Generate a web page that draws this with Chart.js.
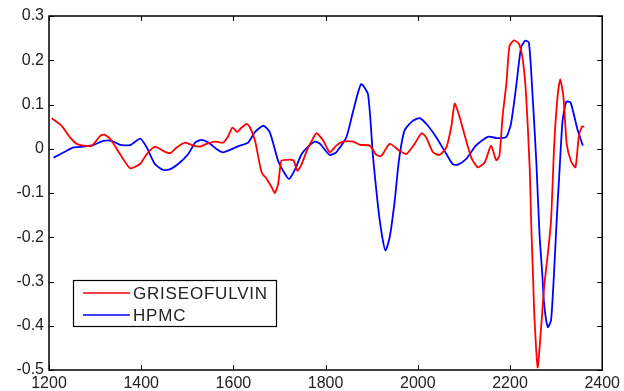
<!DOCTYPE html>
<html>
<head>
<meta charset="utf-8">
<script src="https://cdn.jsdelivr.net/npm/chart.js@4/dist/chart.umd.min.js"></script>
<style>
  html, body { margin: 0; padding: 0; background: #fff; }
  #chart { display: block; }
</style>
</head>
<body>
<canvas id="chart" width="624" height="391"></canvas>
<script>
// spectra
var seriesNames = ['GRISEOFULVIN', 'HPMC'];

var griseoX = [1206,1227,1246,1260,1275,1293,1311,1320,1333,1354,1376,1398,1412,1430,1448,1463,1477,1495,1513,1528,
  1542,1560,1578,1589,1598,1608,1618,1629,1636,1647,1661,1672,1683,1690,1697,1704,1715,1730,1739,1748,
  1759,1770,1780,1795,1809,1823,1838,1860,1874,1896,1910,1921,1939,1961,1975,1993,2008,2018,2033,2047,
  2062,2073,2080,2090,2101,2116,2130,2145,2159,2170,2177,2184,2192,2199,2209,2220,2228,2235,2243,2246,
  2250,2253,2260,2267,2274,2282,2289,2296,2303,2309,2316,2323,2332,2342,2349,2356,2361];
var griseoY = [0.069,0.052,0.025,0.011,0.007,0.007,0.029,0.032,0.022,-0.012,-0.044,-0.034,-0.012,0.005,-0.005,-0.010,0.003,0.014,0.007,0.005,
  0.011,0.016,0.014,0.029,0.048,0.038,0.048,0.056,0.048,0.018,-0.053,-0.068,-0.087,-0.100,-0.080,-0.027,-0.025,-0.026,-0.050,-0.035,
  -0.005,0.018,0.035,0.018,-0.008,0.007,0.016,0.016,0.009,0.007,-0.014,-0.016,0.011,-0.005,-0.012,0.011,0.035,0.026,-0.008,-0.014,
  0.003,0.052,0.102,0.074,0.033,-0.020,-0.042,-0.031,0.007,-0.026,-0.016,0.074,0.146,0.233,0.245,0.236,0.199,0.120,-0.050,-0.170,
  -0.290,-0.381,-0.494,-0.411,-0.313,-0.238,-0.163,0.011,0.116,0.157,0.116,0.011,-0.027,-0.042,0.026,0.050,0.050];

var hpmcX = [1210,1232,1253,1275,1297,1318,1336,1354,1376,1398,1412,1430,1448,1463,1484,1502,1517,1531,1546,1564,
  1578,1596,1614,1632,1647,1665,1679,1697,1712,1721,1734,1748,1762,1777,1788,1809,1823,1845,1860,1877,
  1892,1903,1914,1923,1930,1939,1950,1959,1971,1989,2004,2022,2040,2062,2076,2087,2105,2126,2152,2173,
  2192,2202,2213,2224,2233,2241,2248,2257,2264,2270,2274,2282,2289,2295,2302,2307,2314,2322,2331,2340,
  2347,2358];
var hpmcY = [-0.020,-0.008,0.003,0.005,0.009,0.018,0.018,0.009,0.008,0.023,0.003,-0.035,-0.048,-0.046,-0.031,-0.012,0.014,0.020,0.014,-0.001,
  -0.008,-0.001,0.007,0.014,0.038,0.052,0.037,-0.027,-0.057,-0.068,-0.046,-0.012,0.005,0.016,0.011,-0.014,-0.008,0.026,0.086,0.146,
  0.123,-0.020,-0.133,-0.200,-0.230,-0.200,-0.117,-0.027,0.041,0.063,0.069,0.052,0.026,-0.012,-0.035,-0.036,-0.023,0.007,0.027,0.024,
  0.027,0.056,0.138,0.229,0.244,0.240,0.138,-0.027,-0.193,-0.283,-0.351,-0.403,-0.388,-0.290,-0.147,-0.057,0.063,0.106,0.105,0.071,
  0.041,0.007];

var xTicks = [1200, 1400, 1600, 1800, 2000, 2200, 2400];
var yTicks = [0.3, 0.2, 0.1, 0, -0.1, -0.2, -0.3, -0.4, -0.5];
var yTickLabels = ['0.3', '0.2', '0.1', '0', '-0.1', '-0.2', '-0.3', '-0.4', '-0.5'];

function toPoints(xs, ys) {
  return xs.map(function(x, i) { return { x: x, y: ys[i] }; });
}

// matlab style box with inward ticks on all four sides
var boxTicks = {
  id: 'boxTicks',
  afterDatasetsDraw: function(chart) {
    var c = chart.ctx, a = chart.chartArea;
    var xs = chart.scales.x, ys = chart.scales.y;
    var len = 5;
    c.save();
    c.strokeStyle = '#000';
    c.lineWidth = 1;
    c.beginPath();
    xTicks.forEach(function(v) {
      var px = Math.round(xs.getPixelForValue(v)) + 0.5;
      c.moveTo(px, a.bottom); c.lineTo(px, a.bottom - len);
      c.moveTo(px, a.top); c.lineTo(px, a.top + len);
    });
    yTicks.forEach(function(v) {
      var py = Math.round(ys.getPixelForValue(v)) + 0.5;
      c.moveTo(a.left, py); c.lineTo(a.left + len, py);
      c.moveTo(a.right, py); c.lineTo(a.right - len, py);
    });
    c.stroke();
    c.lineWidth = 1.5;
    c.strokeRect(a.left, a.top, a.right - a.left, a.bottom - a.top);
    c.restore();
  }
};

// legend box sitting inside the plot, lower left
var insideLegend = {
  id: 'insideLegend',
  afterDraw: function(chart) {
    var c = chart.ctx;
    var bx = 73, by = 280, bw = 203, bh = 46;
    c.save();
    c.fillStyle = '#fff';
    c.fillRect(bx, by, bw, bh);
    c.strokeStyle = '#000';
    c.lineWidth = 1.2;
    c.strokeRect(bx + 0.5, by + 0.5, bw, bh);
    c.font = '17px "Liberation Sans", Arial, sans-serif';
    c.letterSpacing = '0.8px';
    c.textBaseline = 'middle';
    chart.data.datasets.forEach(function(ds, i) {
      var ly = by + 13 + i * 22;
      c.strokeStyle = ds.borderColor;
      c.lineWidth = 1.5;
      c.beginPath();
      c.moveTo(bx + 10, ly); c.lineTo(bx + 57, ly);
      c.stroke();
      c.fillStyle = '#222';
      c.fillText(ds.label, bx + 60, ly + 1);
    });
    c.restore();
  }
};

var ctx = document.getElementById('chart');

var myChart = new Chart(ctx, {
  type: 'line',
  data: {
    datasets: [
      {
        label: seriesNames[0],
        data: toPoints(griseoX, griseoY),
        borderColor: '#ff0000',
        borderWidth: 1.8,
        pointRadius: 0,
        tension: 0.2,
        fill: false
      },
      {
        label: seriesNames[1],
        data: toPoints(hpmcX, hpmcY),
        borderColor: '#0000ff',
        borderWidth: 1.8,
        pointRadius: 0,
        tension: 0.2,
        fill: false
      }
    ]
  },
  options: {
    responsive: false,
    animation: false,
    layout: { padding: { top: 16, right: 21, left: 0, bottom: 0 } },
    plugins: {
      legend: { display: false },
      tooltip: { enabled: false }
    },
    scales: {
      x: {
        type: 'linear',
        min: 1200,
        max: 2400,
        afterFit: function(s) { s.height = 21; },
        afterBuildTicks: function(s) { s.ticks = xTicks.map(function(v) { return { value: v }; }); },
        grid: { display: false, drawTicks: false },
        border: { display: false },
        ticks: {
          padding: 4,
          maxRotation: 0,
          color: '#222',
          font: { family: '"Liberation Sans", Arial, sans-serif', size: 16 },
          callback: function(v) { return String(v); }
        }
      },
      y: {
        type: 'linear',
        min: -0.5,
        max: 0.3,
        afterFit: function(s) { s.width = 49; },
        afterBuildTicks: function(s) { s.ticks = yTicks.map(function(v) { return { value: v }; }); },
        grid: { display: false, drawTicks: false },
        border: { display: false },
        ticks: {
          padding: 5,
          color: '#222',
          font: { family: '"Liberation Sans", Arial, sans-serif', size: 16 },
          callback: function(v, i) { return yTickLabels[i]; }
        }
      }
    }
  },
  plugins: [boxTicks, insideLegend]
});
</script>
</body>
</html>
